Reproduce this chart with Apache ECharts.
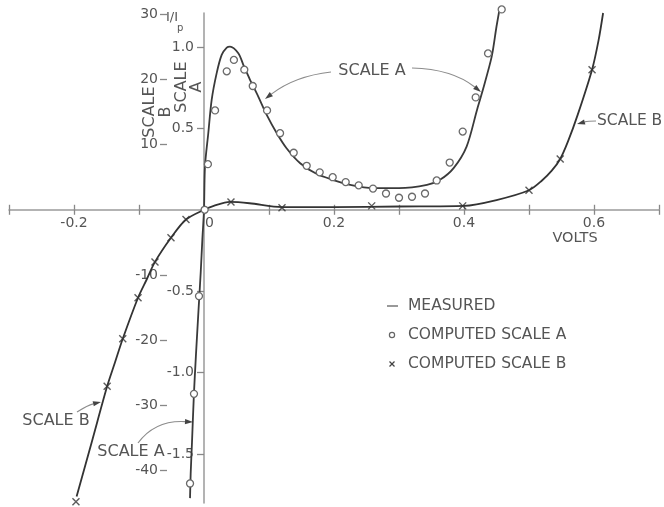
<!DOCTYPE html>
<html><head><meta charset="utf-8">
<script src="https://cdn.jsdelivr.net/npm/echarts@6/dist/echarts.min.js"></script>
<style>html,body{margin:0;padding:0;background:#fff}#c{width:664px;height:507px}</style>
</head><body><div id="c"></div>
<script>
// ---- data (volts, I/Ip) ----
const measuredA = [[-0.0215,-1.77],[-0.0205,-1.62],[-0.0185,-1.43],[-0.0155,-1.13],[-0.0125,-0.9],[-0.0085,-0.62],[-0.005,-0.38],[-0.0025,-0.18],[0,0],[0.0015,0.266],[0.0066,0.47],[0.0118,0.675],[0.0195,0.839],[0.0272,0.951],[0.035,0.996],[0.040,1.002],[0.0528,0.961],[0.0605,0.890],[0.0708,0.798],[0.0835,0.695],[0.0965,0.583],[0.112,0.470],[0.127,0.378],[0.148,0.286],[0.173,0.221],[0.198,0.184],[0.225,0.153],[0.26,0.133],[0.30,0.133],[0.343,0.153],[0.363,0.184],[0.384,0.256],[0.404,0.388],[0.42,0.613],[0.4277,0.718],[0.4426,0.94],[0.45,1.125],[0.4554,1.247]];
const computedA = [[0.001,0],[0.006,0.28],[0.017,0.61],[0.035,0.85],[0.046,0.92],[0.062,0.86],[0.075,0.76],[0.097,0.61],[0.117,0.47],[0.138,0.35],[0.158,0.27],[0.178,0.23],[0.198,0.20],[0.218,0.17],[0.238,0.15],[0.26,0.13],[0.28,0.10],[0.30,0.074],[0.32,0.08],[0.34,0.10],[0.358,0.18],[0.378,0.29],[0.398,0.48],[0.418,0.69],[0.437,0.96],[0.458,1.23],[-0.0077,-0.53],[-0.0154,-1.13],[-0.0215,-1.68]];
const measuredB = [[-0.196,-44.0],[-0.172,-35.4],[-0.149,-27.1],[-0.137,-23.45],[-0.125,-19.8],[-0.1015,-13.5],[-0.088,-10.66],[-0.0754,-8.0],[-0.0508,-4.3],[-0.0277,-1.5],[0,0],[0.015,0.6],[0.04,1.2],[0.07,1.0],[0.12,0.4],[0.2,0.4],[0.3,0.5],[0.4,0.6],[0.45,1.5],[0.5,3.0],[0.52,4.5],[0.535,6.0],[0.548,7.8],[0.56,10.5],[0.575,14.6],[0.597,21.5],[0.607,26.0],[0.614,30.2]];
const computedB = [[-0.197,-44.8],[-0.149,-27.1],[-0.125,-19.8],[-0.1015,-13.5],[-0.0754,-8.0],[-0.0508,-4.3],[-0.0277,-1.5],[0.0415,1.2],[0.12,0.3],[0.258,0.6],[0.398,0.6],[0.5,3.0],[0.548,7.8],[0.597,21.5]];
const xLabelValues = [-0.2, 0, 0.2, 0.4, 0.6];
const scaleATicks = [-1.5, -1.0, -0.5, 0.5, 1.0];
const scaleBTicks = [-40, -30, -20, -10, 10, 20, 30];
const legendNames = ['MEASURED', 'COMPUTED SCALE A', 'COMPUTED SCALE B'];

// ---- layout ----
const FONT = '"DejaVu Sans", sans-serif';
const TXT = '#555';
const G = {left: 9, top: 13, width: 650, height: 490};
const X_MIN = -0.3, X_MAX = 0.7, B_MIN = -45, B_MAX = 30.2, A_PER_B = 1 / 25;
// axes crossing at the origin (placed with offsets instead of onZero)
const zeroXpx = G.left + (0 - X_MIN) / (X_MAX - X_MIN) * G.width;
const zeroYpx = G.top + (B_MAX - 0) / (B_MAX - B_MIN) * G.height;
const yOffsetA = -(zeroXpx - G.left);
const xOffset = zeroYpx - (G.top + G.height);

const chart = echarts.init(document.getElementById('c'), null, {renderer: 'canvas'});

function arrow(x1, y1, cx, cy, x2, y2) {
  const dx = x2 - cx, dy = y2 - cy, L = Math.hypot(dx, dy), ux = dx / L, uy = dy / L;
  const len = 8, w = 2.6;
  const bx = x2 - ux * len, by = y2 - uy * len;
  return [
    {type: 'bezierCurve', silent: true, shape: {x1: x1, y1: y1, x2: bx, y2: by, cpx1: cx, cpy1: cy},
     style: {stroke: '#8c8c8c', lineWidth: 1.2, fill: null}},
    {type: 'polygon', silent: true, shape: {points: [[x2, y2], [bx - uy * w, by + ux * w], [bx + uy * w, by - ux * w]]},
     style: {fill: '#444'}}
  ];
}
function txt(text, x, y, size, extra) {
  return {type: 'text', silent: true, x: x, y: y,
    style: Object.assign({text: text, font: size + 'px ' + FONT, fill: TXT, align: 'center', verticalAlign: 'middle'}, extra || {})};
}
function fmt1(v) { return Number(v).toFixed(1); }

const graphics = [].concat(
  [txt('SCALE A', 372, 71, 16)],
  arrow(331, 72, 295, 76, 265, 99),
  arrow(412, 68, 452, 69, 481, 92),
  [txt('SCALE B', 597, 121, 15.5, {align: 'left'})],
  arrow(596, 121, 588, 121, 577, 124),
  [txt('SCALE B', 56, 421, 16)],
  arrow(77, 412, 88, 405, 101, 402),
  [txt('SCALE A', 131, 452, 16)],
  arrow(138, 443, 155, 420, 193, 422),
  [
    Object.assign(txt('SCALE\nB', 158, 112, 16, {lineHeight: 16}), {rotation: Math.PI / 2}),
    Object.assign(txt('SCALE\nA', 189, 87, 16, {lineHeight: 15}), {rotation: Math.PI / 2}),
    txt('VOLTS', 575, 238, 14.5),
    txt('I/I', 166, 18, 13, {align: 'left'}),
    txt('p', 177, 28, 10, {align: 'left'}),
    // legend
    {type: 'line', silent: true, shape: {x1: 387, y1: 306, x2: 398, y2: 306}, style: {stroke: '#777', lineWidth: 1.5}},
    {type: 'circle', silent: true, shape: {cx: 392, cy: 335, r: 2.6}, style: {stroke: '#666', lineWidth: 1.2, fill: '#fff'}},
    {type: 'polyline', silent: true, shape: {points: [[389.5, 361.5], [394.5, 366.5]]}, style: {stroke: '#444', lineWidth: 1.3}},
    {type: 'polyline', silent: true, shape: {points: [[394.5, 361.5], [389.5, 366.5]]}, style: {stroke: '#444', lineWidth: 1.3}},
    txt(legendNames[0], 408, 306, 15.5, {align: 'left'}),
    txt(legendNames[1], 408, 335, 15.5, {align: 'left'}),
    txt(legendNames[2], 408, 364, 15.5, {align: 'left'})
  ]
);

const option = {
  animation: false,
  backgroundColor: '#fff',
  grid: Object.assign({containLabel: false, outerBoundsMode: 'none'}, G),
  xAxis: [
    {type: 'value', min: X_MIN, max: X_MAX, interval: 0.1, position: 'bottom', offset: xOffset,
     axisLine: {onZero: false, lineStyle: {color: '#9a9a9a', width: 1.5}},
     axisTick: {show: true, length: 5, lineStyle: {color: '#888', width: 1.3}},
     axisLabel: {customValues: xLabelValues, margin: 7, color: TXT, fontSize: 14, fontFamily: FONT,
       formatter: function (v) { const k = Math.round(Number(v) * 10); return k === 0 ? '{o|0}' : (k / 10).toFixed(1); },
       rich: {o: {padding: [0, 0, 0, 11], fontSize: 14, fontFamily: FONT, color: TXT}}},
     splitLine: {show: false}},
    {type: 'value', min: X_MIN, max: X_MAX, interval: 0.1, position: 'bottom', offset: xOffset,
     axisLine: {show: false, onZero: false},
     axisTick: {show: true, inside: true, length: 5, lineStyle: {color: '#888', width: 1.3}},
     axisLabel: {show: false}, splitLine: {show: false}}
  ],
  yAxis: [
    {type: 'value', min: B_MIN * A_PER_B, max: B_MAX * A_PER_B, position: 'left', offset: yOffsetA,
     axisLine: {onZero: false, lineStyle: {color: '#9a9a9a', width: 1.5}},
     axisTick: {show: true, customValues: scaleATicks, length: 7, lineStyle: {color: '#888', width: 1.3}},
     axisLabel: {customValues: scaleATicks, margin: 10, color: TXT, fontSize: 14, fontFamily: FONT, formatter: fmt1},
     splitLine: {show: false}},
    {type: 'value', min: B_MIN, max: B_MAX, position: 'left', offset: -158,
     axisLine: {show: false, onZero: false},
     axisTick: {show: true, customValues: scaleBTicks, length: 7, lineStyle: {color: '#888', width: 1.3}},
     axisLabel: {customValues: scaleBTicks, margin: 9, color: TXT, fontSize: 14, fontFamily: FONT,
       formatter: function (v) { return String(Math.round(Number(v))); }},
     splitLine: {show: false}}
  ],
  series: [
    {name: 'MEASURED', type: 'line', xAxisIndex: 0, yAxisIndex: 0, data: measuredA, showSymbol: false,
     smooth: 0.3, clip: false, lineStyle: {color: '#3a3a3a', width: 1.8}, z: 2},
    {name: 'MEASURED', type: 'line', xAxisIndex: 0, yAxisIndex: 1, data: measuredB, showSymbol: false,
     smooth: 0.3, clip: false, lineStyle: {color: '#333', width: 1.8}, z: 2},
    {name: 'COMPUTED SCALE A', type: 'scatter', xAxisIndex: 0, yAxisIndex: 0, data: computedA, symbol: 'circle',
     symbolSize: 7, clip: false, itemStyle: {color: '#fff', borderColor: '#6a6a6a', borderWidth: 1.3, opacity: 1}, z: 4},
    {name: 'COMPUTED SCALE B', type: 'scatter', xAxisIndex: 0, yAxisIndex: 1, data: computedB,
     symbol: 'path://M0,0L10,10M10,0L0,10', symbolSize: 7, clip: false,
     itemStyle: {color: 'rgba(0,0,0,0)', borderColor: '#333', borderWidth: 1.4}, z: 4}
  ],
  graphic: graphics
};
chart.setOption(option);
</script>
</body></html>
